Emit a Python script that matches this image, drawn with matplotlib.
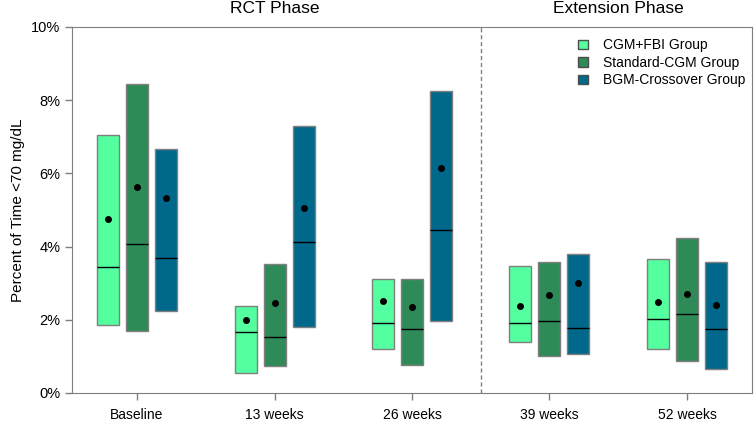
import matplotlib.pyplot as plt
import numpy as np

plt.rcParams['font.family'] = ['Liberation Sans', 'DejaVu Sans']

timepoints = ['Baseline', '13 weeks', '26 weeks', '39 weeks', '52 weeks']
groups = ['CGM+FBI Group', 'Standard-CGM Group', 'BGM-Crossover Group']
colors = ['#54FF9F', '#2E8B57', '#00688B']

# lower / upper quartile, median, mean (percent), per group, per timepoint
q1_cgm_fbi  = [1.85, 0.56, 1.20, 1.38, 1.21]
q3_cgm_fbi  = [7.05, 2.39, 3.11, 3.48, 3.66]
med_cgm_fbi = [3.44, 1.67, 1.91, 1.90, 2.02]
mean_cgm_fbi = [4.76, 2.00, 2.51, 2.38, 2.49]

q1_std  = [1.70, 0.74, 0.76, 1.01, 0.87]
q3_std  = [8.43, 3.52, 3.12, 3.57, 4.23]
med_std = [4.07, 1.53, 1.75, 1.97, 2.15]
mean_std = [5.62, 2.45, 2.36, 2.68, 2.71]

q1_bgm  = [2.23, 1.81, 1.97, 1.07, 0.66]
q3_bgm  = [6.68, 7.29, 8.26, 3.80, 3.58]
med_bgm = [3.69, 4.13, 4.46, 1.78, 1.75]
mean_bgm = [5.34, 5.06, 6.16, 3.00, 2.41]

q1 = [q1_cgm_fbi, q1_std, q1_bgm]
q3 = [q3_cgm_fbi, q3_std, q3_bgm]
med = [med_cgm_fbi, med_std, med_bgm]
means = [mean_cgm_fbi, mean_std, mean_bgm]

fig = plt.figure(figsize=(7.55, 4.22), dpi=100)
ax = fig.add_axes([72/755, 29/422, 680/755, 366/422])

x = np.arange(1, len(timepoints) + 1)
offsets = [-0.211, 0, 0.211]
w = 0.16
for g in range(3):
    lo = np.array(q1[g])
    hi = np.array(q3[g])
    xs = x + offsets[g]
    ax.bar(xs, hi - lo, bottom=lo, width=w, color=colors[g],
           edgecolor='#7f7f7f', linewidth=1.0, label=groups[g], zorder=2)
    ax.hlines(med[g], xs - w/2, xs + w/2, color='black', linewidth=1.0, zorder=3)
    ax.plot(xs, means[g], 'o', color='black', markersize=4, zorder=4)

ax.axvline(3.5, color='#7f7f7f', linestyle=(0, (3, 2)), linewidth=1.0)

ax.set_xlim(0.527, 5.473)
ax.set_ylim(0, 10)
ax.set_xticks(x)
ax.set_xticklabels(timepoints, fontsize=10)
ax.set_yticks([0, 2, 4, 6, 8, 10])
ax.set_yticklabels(['0%', '2%', '4%', '6%', '8%', '10%'], fontsize=10.5)
ax.set_ylabel('Percent of Time <70 mg/dL', fontsize=11)
ax.tick_params(colors='#7f7f7f', labelcolor='black', length=5, width=1)
ax.tick_params(axis='x', pad=6)
for s in ax.spines.values():
    s.set_color('#7f7f7f')

ax.text(2, 10.3, 'RCT Phase', ha='center', va='bottom', fontsize=12.5)
ax.text(4.5, 10.3, 'Extension Phase', ha='center', va='bottom', fontsize=12.5)

leg = ax.legend(loc='upper right', frameon=False, fontsize=10, handlelength=0.7,
                handleheight=0.7, handletextpad=1.1, labelspacing=0.25,
                bbox_to_anchor=(1.009, 1.003))
for h in leg.legend_handles:
    h.set_edgecolor('#4d4d4d')

fig.savefig('out.png', dpi=100)
